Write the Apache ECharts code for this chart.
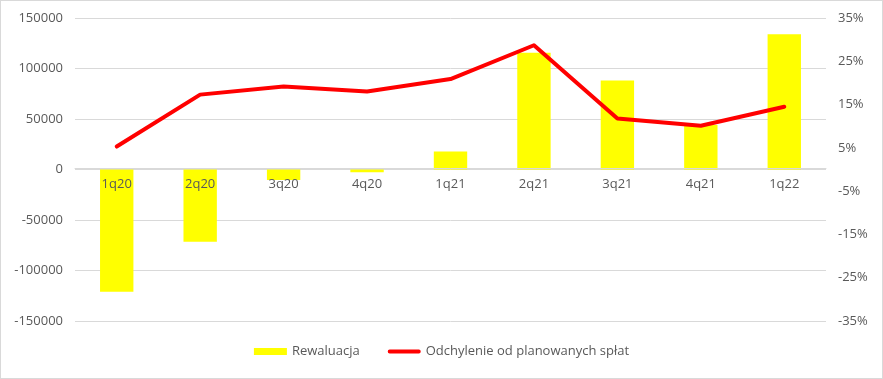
<!DOCTYPE html>
<html>
<head>
<meta charset="utf-8">
<script src="https://cdn.jsdelivr.net/npm/echarts@6/dist/echarts.min.js"></script>
<style>
html,body{margin:0;padding:0;background:#fff;}
#c{width:883px;height:379px;box-sizing:border-box;border:1px solid #d9d9d9;}
</style>
</head>
<body>
<div id="c"></div>
<script>
const categories = ['1q20','2q20','3q20','4q20','1q21','2q21','3q21','4q21','1q22'];
const rewaluacja = [-121000, -71500, -10500, -2600, 17800, 115500, 88000, 44000, 134000];
const odchylenie = [5.3, 17.3, 19.2, 18.0, 20.9, 28.7, 11.8, 10.1, 14.5];
const leftTicks = {min: -150000, max: 150000, interval: 50000};
const rightTicks = {min: -35, max: 35, interval: 10};

const font = "'Open Sans', 'Noto Sans', sans-serif";
const gridTop = 17, gridBottom = 57, H = 379;
const plotH = H - gridTop - gridBottom;
// distance of the zero line above the plot bottom, from the left axis range
const zeroOffset = plotH * (0 - leftTicks.min) / (leftTicks.max - leftTicks.min);

const chart = echarts.init(document.getElementById('c'));
chart.setOption({
  animation: false,
  textStyle: {fontFamily: font},
  grid: {left: 74, right: 56, top: gridTop, bottom: gridBottom},
  legend: {
    bottom: 15, left: 'center', itemGap: 28, itemWidth: 33, itemHeight: 7,
    textStyle: {color: '#595959', fontSize: 13, fontFamily: font},
    data: [
      {name: 'Rewaluacja', icon: 'rect'},
      {name: 'Odchylenie od planowanych spłat', icon: 'path://M2,0 H33 A2,2 0 0 1 33,4 H2 A2,2 0 0 1 2,0 Z'}
    ]
  },
  xAxis: {
    type: 'category', data: categories, position: 'bottom', offset: -zeroOffset,
    axisLine: {onZero: false, lineStyle: {color: '#d9d9d9'}},
    axisTick: {show: false},
    axisLabel: {color: '#595959', fontSize: 13, margin: 9, fontFamily: font},
    z: 10
  },
  yAxis: [
    {
      type: 'value', min: leftTicks.min, max: leftTicks.max, interval: leftTicks.interval,
      axisLine: {show: false}, axisTick: {show: false},
      splitLine: {lineStyle: {color: '#d9d9d9'}},
      axisLabel: {color: '#595959', fontSize: 13, margin: 12, fontFamily: font,
        formatter: function (v) { return String(v); }}
    },
    {
      type: 'value', min: rightTicks.min, max: rightTicks.max, interval: rightTicks.interval,
      axisLine: {show: false}, axisTick: {show: false},
      splitLine: {show: false},
      axisLabel: {color: '#595959', fontSize: 13, margin: 12, fontFamily: font,
        formatter: function (v) { return v + '%'; }}
    }
  ],
  series: [
    {
      name: 'Rewaluacja', type: 'bar', data: rewaluacja, barWidth: '40%',
      itemStyle: {color: '#ffff00'}, yAxisIndex: 0, z: 2
    },
    {
      name: 'Odchylenie od planowanych spłat', type: 'line', data: odchylenie, yAxisIndex: 1,
      showSymbol: false, symbol: 'none',
      lineStyle: {color: '#ff0000', width: 4, cap: 'round', join: 'round'},
      itemStyle: {color: '#ff0000'}, z: 5
    }
  ]
});
</script>
</body>
</html>
